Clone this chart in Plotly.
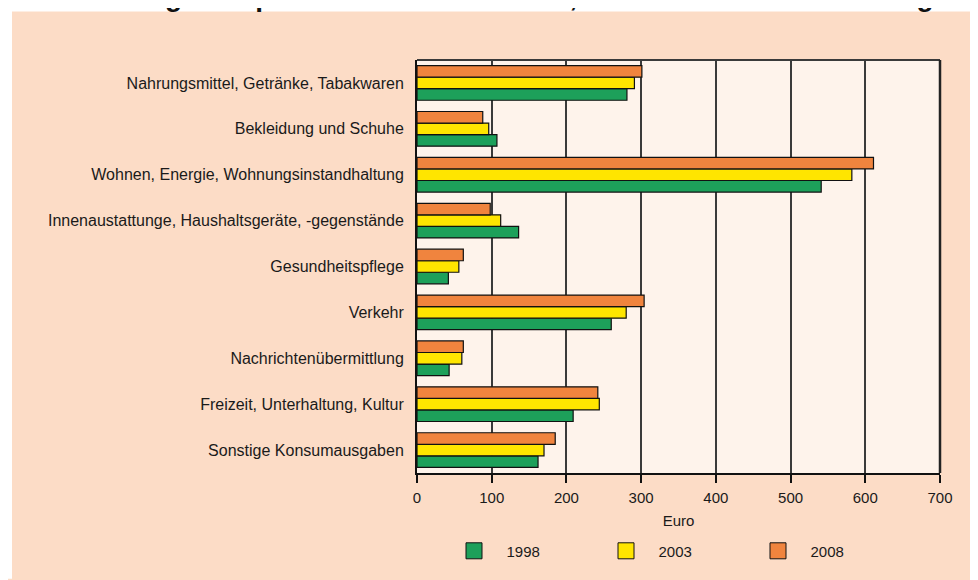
import plotly.graph_objects as go

# Ausgabenbereiche (von oben nach unten)
categories = [
    "Nahrungsmittel, Getränke, Tabakwaren",
    "Bekleidung und Schuhe",
    "Wohnen, Energie, Wohnungsinstandhaltung",
    "Innenaustattunge, Haushaltsgeräte, -gegenstände",
    "Gesundheitspflege",
    "Verkehr",
    "Nachrichtenübermittlung",
    "Freizeit, Unterhaltung, Kultur",
    "Sonstige Konsumausgaben",
]
years = ["1998", "2003", "2008"]
values_1998 = [281, 107, 541, 136, 42, 260, 43, 209, 162]
values_2003 = [291, 96, 582, 112, 56, 280, 60, 244, 170]
values_2008 = [301, 88, 611, 98, 62, 304, 62, 242, 185]
x_ticks = [0, 100, 200, 300, 400, 500, 600, 700]

colors = ["#1DA05A", "#FFE500", "#F0843E"]
PEACH = "#FCDCC6"
FONT = "Arial, Liberation Sans, sans-serif"

# figure is placed at (8, 8) in the page -> work in figure pixels
W, H = 970, 572
L, R, T, B = 409, 932, 52, 470


def px_x(px):
    return (px - L) / (R - L)


def px_y(py):
    return (B - py) / (B - T)


fig = go.Figure()
for name, vals, col in zip(years, [values_1998, values_2003, values_2008], colors):
    fig.add_trace(go.Bar(
        y=categories, x=vals, name=name, orientation="h", legendgroup=name,
        showlegend=False,
        marker=dict(color=col, line=dict(color="#111111", width=1.2)),
    ))
    # legend entry with a larger square swatch
    fig.add_trace(go.Scatter(
        x=[None], y=[None], mode="markers", legendgroup=name,
        name="\u00a0\u00a0\u00a0" + name,
        marker=dict(symbol="square", size=18, color=col,
                    line=dict(color="#111111", width=1)),
    ))

fig.update_layout(
    width=W, height=H,
    margin=dict(l=L, r=W - R, t=T, b=H - B),
    paper_bgcolor=PEACH,
    plot_bgcolor="#FEF3EB",
    barmode="group",
    bargap=0.245,
    bargroupgap=0,
    font=dict(family=FONT, size=15, color="#1a1a1a"),
    xaxis=dict(
        range=[0, 700], tickvals=x_ticks, showgrid=True,
        gridcolor="#3a3a3a", gridwidth=1.5,
        showline=True, linecolor="#111111", linewidth=2, mirror=False,
        ticks="outside", ticklen=8, tickcolor="#111111", tickwidth=1.5,
        tickfont=dict(size=15), zeroline=False, ticklabelstandoff=2,
        title=dict(text="Euro", font=dict(size=15), standoff=10),
    ),
    yaxis=dict(
        categoryorder="array", categoryarray=categories[::-1],
        showline=True, linecolor="#111111", linewidth=2,
        showgrid=False, ticks="", ticklabelstandoff=8,
        tickfont=dict(size=16),
    ),
    legend=dict(
        orientation="h", x=px_x(446), xanchor="left",
        y=px_y(549), yanchor="middle", entrywidth=107,
        itemsizing="trace",
        bgcolor="rgba(0,0,0,0)", font=dict(size=15),
    ),
    showlegend=True,
)

# Rahmen oben/rechts
fig.add_shape(type="line", xref="paper", yref="paper", x0=0, x1=1, y0=1, y1=1,
              line=dict(color="#3a3a3a", width=2))
fig.add_shape(type="line", xref="paper", yref="paper", x0=1, x1=1, y0=0, y1=1,
              line=dict(color="#222222", width=2.5))

# weisse Randstreifen
fig.add_shape(type="rect", xref="paper", yref="paper", x0=px_x(-2), x1=px_x(4),
              y0=px_y(H + 5), y1=px_y(-5), fillcolor="white", line_width=0, layer="below")
fig.add_shape(type="rect", xref="paper", yref="paper", x0=px_x(-2), x1=px_x(W + 5),
              y0=px_y(3), y1=px_y(-5), fillcolor="white", line_width=0, layer="below")

# Titel, oben vom Bildrand abgeschnitten
fig.add_annotation(
    text="<b>Ausgaben privater Haushalte 1998, 2003 und 2008 im Zeitvergleich</b>",
    xref="paper", yref="paper", x=px_x(102), y=px_y(5),
    xanchor="left", yanchor="bottom", showarrow=False,
    font=dict(size=28, color="#111111"),
)

fig.write_html("out.html")
